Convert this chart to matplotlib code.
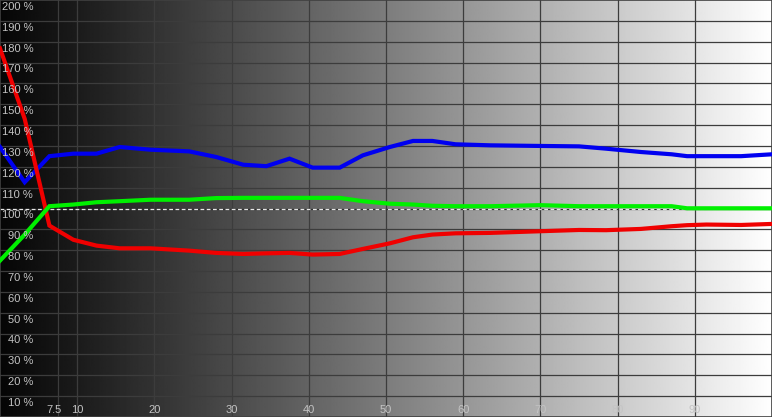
import numpy as np
import matplotlib
matplotlib.use("Agg")
import matplotlib.pyplot as plt

# ---- data ----
x_vals = [0, 3.2, 6.4, 9.5, 12.5, 15.5, 19.5, 24.5, 28, 31.5, 34.5, 37.5, 40.5, 44,
          47, 50.5, 53.5, 56, 59, 63.5, 70, 75, 78.5, 83, 87, 89, 91.5, 96, 100]
blue_vals = [129.5, 112.6, 125.1, 126.3, 126.3, 129.5, 128.2, 127.4, 124.7, 121.0,
             120.3, 123.9, 119.6, 119.6, 125.5, 129.5, 132.4, 132.4, 130.8, 130.3,
             130.0, 129.8, 128.7, 127.1, 126.0, 125.1, 125.1, 125.1, 126.0]
green_vals = [75.0, 87.5, 101.1, 101.9, 103.0, 103.5, 104.2, 104.2, 105.0, 105.1,
              105.1, 105.1, 105.1, 105.1, 103.5, 102.3, 101.9, 101.3, 101.1, 101.1,
              101.6, 101.1, 101.1, 101.1, 101.1, 100.1, 100.1, 100.1, 100.1]
red_vals = [176.8, 143.0, 91.8, 85.0, 82.2, 80.9, 80.9, 79.8, 78.7, 78.2,
            78.5, 78.7, 77.9, 78.2, 80.6, 83.3, 86.2, 87.5, 88.1, 88.3,
            89.1, 89.7, 89.6, 90.2, 91.5, 92.0, 92.3, 92.1, 92.6]

x_ticks = [7.5, 10, 20, 30, 40, 50, 60, 70, 80, 90]
x_tick_labels = ["7.5", "10", "20", "30", "40", "50", "60", "70", "80", "90"]
y_ticks = [10, 20, 30, 40, 50, 60, 70, 80, 90, 100, 110, 120, 130, 140, 150,
           160, 170, 180, 190, 200]
y_tick_labels = [f"{v} %" for v in y_ticks]
reference_level = 100

# ---- figure ----
fig = plt.figure(figsize=(7.72, 4.17), dpi=100)
ax = fig.add_axes([0, 0, 1, 1])
ax.set_xlim(0, 100)
ax.set_ylim(0, 200)

# grayscale gradient background
grad = np.linspace(0.03, 1.0, 512) ** 1.08
ax.imshow(grad[np.newaxis, :], extent=[0, 100, 0, 200], aspect="auto",
          cmap="gray", vmin=0, vmax=1, zorder=0, interpolation="bilinear")

grid_color = "#3c3c3c"
for xv in x_ticks:
    ax.axvline(xv, color=grid_color, lw=0.9, zorder=1)
for yv in y_ticks[:-1]:
    if yv == reference_level:
        continue
    ax.axhline(yv, color=grid_color, lw=0.9, zorder=1)

# dashed reference line at 100 %
ax.axhline(reference_level, color="#303030", lw=0.9, zorder=1)
ax.axhline(reference_level, color="#e8e8e8", lw=0.9, zorder=1.1,
           linestyle=(0, (3, 2)))

ax.plot(x_vals, blue_vals, color="#0000f0", lw=3.0, zorder=3,
        solid_joinstyle="miter")
ax.plot(x_vals, red_vals, color="#f00000", lw=3.0, zorder=4,
        solid_joinstyle="miter")
ax.plot(x_vals, green_vals, color="#00f000", lw=3.0, zorder=5,
        solid_joinstyle="miter")

text_color = "#c4c4c4"
font = "Liberation Sans"
for yv, lab in zip(y_ticks, y_tick_labels):
    ax.text(4.3, yv - 0.9, lab, ha="right", va="top", fontsize=8,
            color=text_color, zorder=6, family=font)
for xv, lab in zip(x_ticks, x_tick_labels):
    xpos = xv - 0.45 if lab == "7.5" else xv
    ax.text(xpos, 3.4, lab, ha="center", va="center", fontsize=8,
            color=text_color, zorder=6, family=font)

ax.set_xticks([])
ax.set_yticks([])
for s in ax.spines.values():
    s.set_color("#404040")
    s.set_linewidth(1.2)

fig.savefig("out.png", dpi=100)
